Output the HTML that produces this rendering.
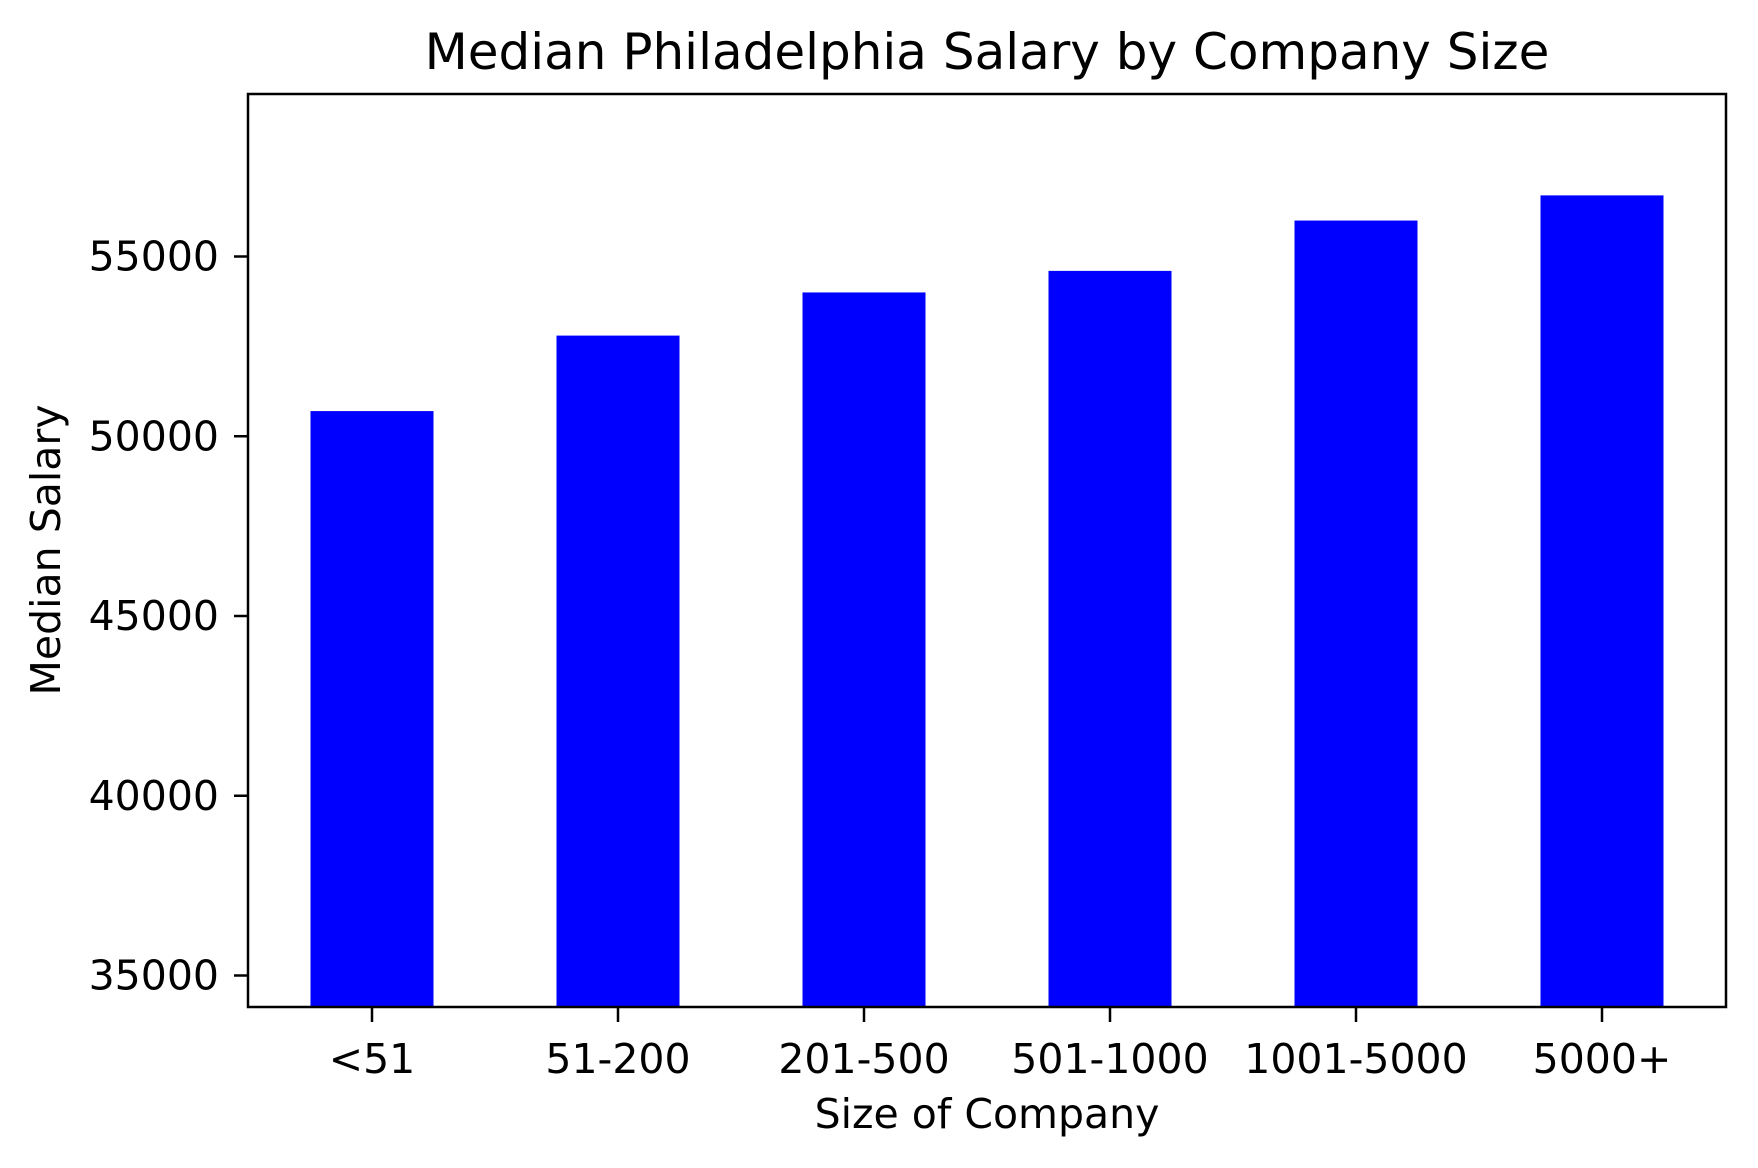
<!DOCTYPE html>
<html><head><meta charset="utf-8"><style>
html,body{margin:0;padding:0;background:#fff;}
svg text{font-family:"DejaVu Sans","Liberation Sans",sans-serif;fill:#000;}
</style></head><body>
<svg id="chart" width="1758" height="1163" viewBox="0 0 1758 1163" xmlns="http://www.w3.org/2000/svg">
<rect width="1758" height="1163" fill="#fff"/>
<text x="987" y="69" font-size="50" text-anchor="middle">Median Philadelphia Salary by Company Size</text>
<g id="bars"></g>
<g id="xticks"></g>
<g id="yticks"></g>
<rect x="248" y="94" width="1478" height="913" fill="none" stroke="#000" stroke-width="2.5"/>
<text x="987" y="1128" font-size="41" text-anchor="middle">Size of Company</text>
<text x="0" y="0" font-size="41" text-anchor="middle" transform="translate(60,550) rotate(-90)">Median Salary</text>
</svg>
<script>
const categories = ["<51","51-200","201-500","501-1000","1001-5000","5000+"];
const salaries = [50700, 52800, 54000, 54600, 56000, 56700];
const yTicks = [35000, 40000, 45000, 50000, 55000];
const NS = "http://www.w3.org/2000/svg";
const plotBottom = 1007;
function yScale(v){ return 256.5 + (55000 - v) / 5000 * 179.75; }
function xScale(i){ return 372 + i * 246; }
const barW = 123;
const bars = document.getElementById('bars');
const xt = document.getElementById('xticks');
const yt = document.getElementById('yticks');
categories.forEach((c, i) => {
  const r = document.createElementNS(NS, 'rect');
  
  
  const y = yScale(salaries[i]);
  r.setAttribute('x', xScale(i) - barW / 2);
  r.setAttribute('y', y);
  r.setAttribute('width', barW);
  r.setAttribute('height', plotBottom - y);
  r.setAttribute('fill', '#0000ff');
  bars.appendChild(r);
  const l = document.createElementNS(NS, 'line');
  
  
  l.setAttribute('x1', xScale(i)); l.setAttribute('x2', xScale(i));
  l.setAttribute('y1', plotBottom); l.setAttribute('y2', plotBottom + 15);
  l.setAttribute('stroke', '#000'); l.setAttribute('stroke-width', '2.5');
  xt.appendChild(l);
  const t = document.createElementNS(NS, 'text');
  
  
  t.setAttribute('x', xScale(i)); t.setAttribute('y', 1073);
  t.setAttribute('font-size', '41'); t.setAttribute('text-anchor', 'middle');
  t.textContent = c;
  xt.appendChild(t);
});
yTicks.forEach(v => {
  const y = yScale(v);
  const l = document.createElementNS(NS, 'line');
  
  
  l.setAttribute('x1', 234); l.setAttribute('x2', 248);
  l.setAttribute('y1', y); l.setAttribute('y2', y);
  l.setAttribute('stroke', '#000'); l.setAttribute('stroke-width', '2.5');
  yt.appendChild(l);
  const t = document.createElementNS(NS, 'text');
  
  
  t.setAttribute('x', 219); t.setAttribute('y', y + 14);
  t.setAttribute('font-size', '41'); t.setAttribute('text-anchor', 'end');
  t.textContent = v;
  yt.appendChild(t);
});
</script>
</body></html>
